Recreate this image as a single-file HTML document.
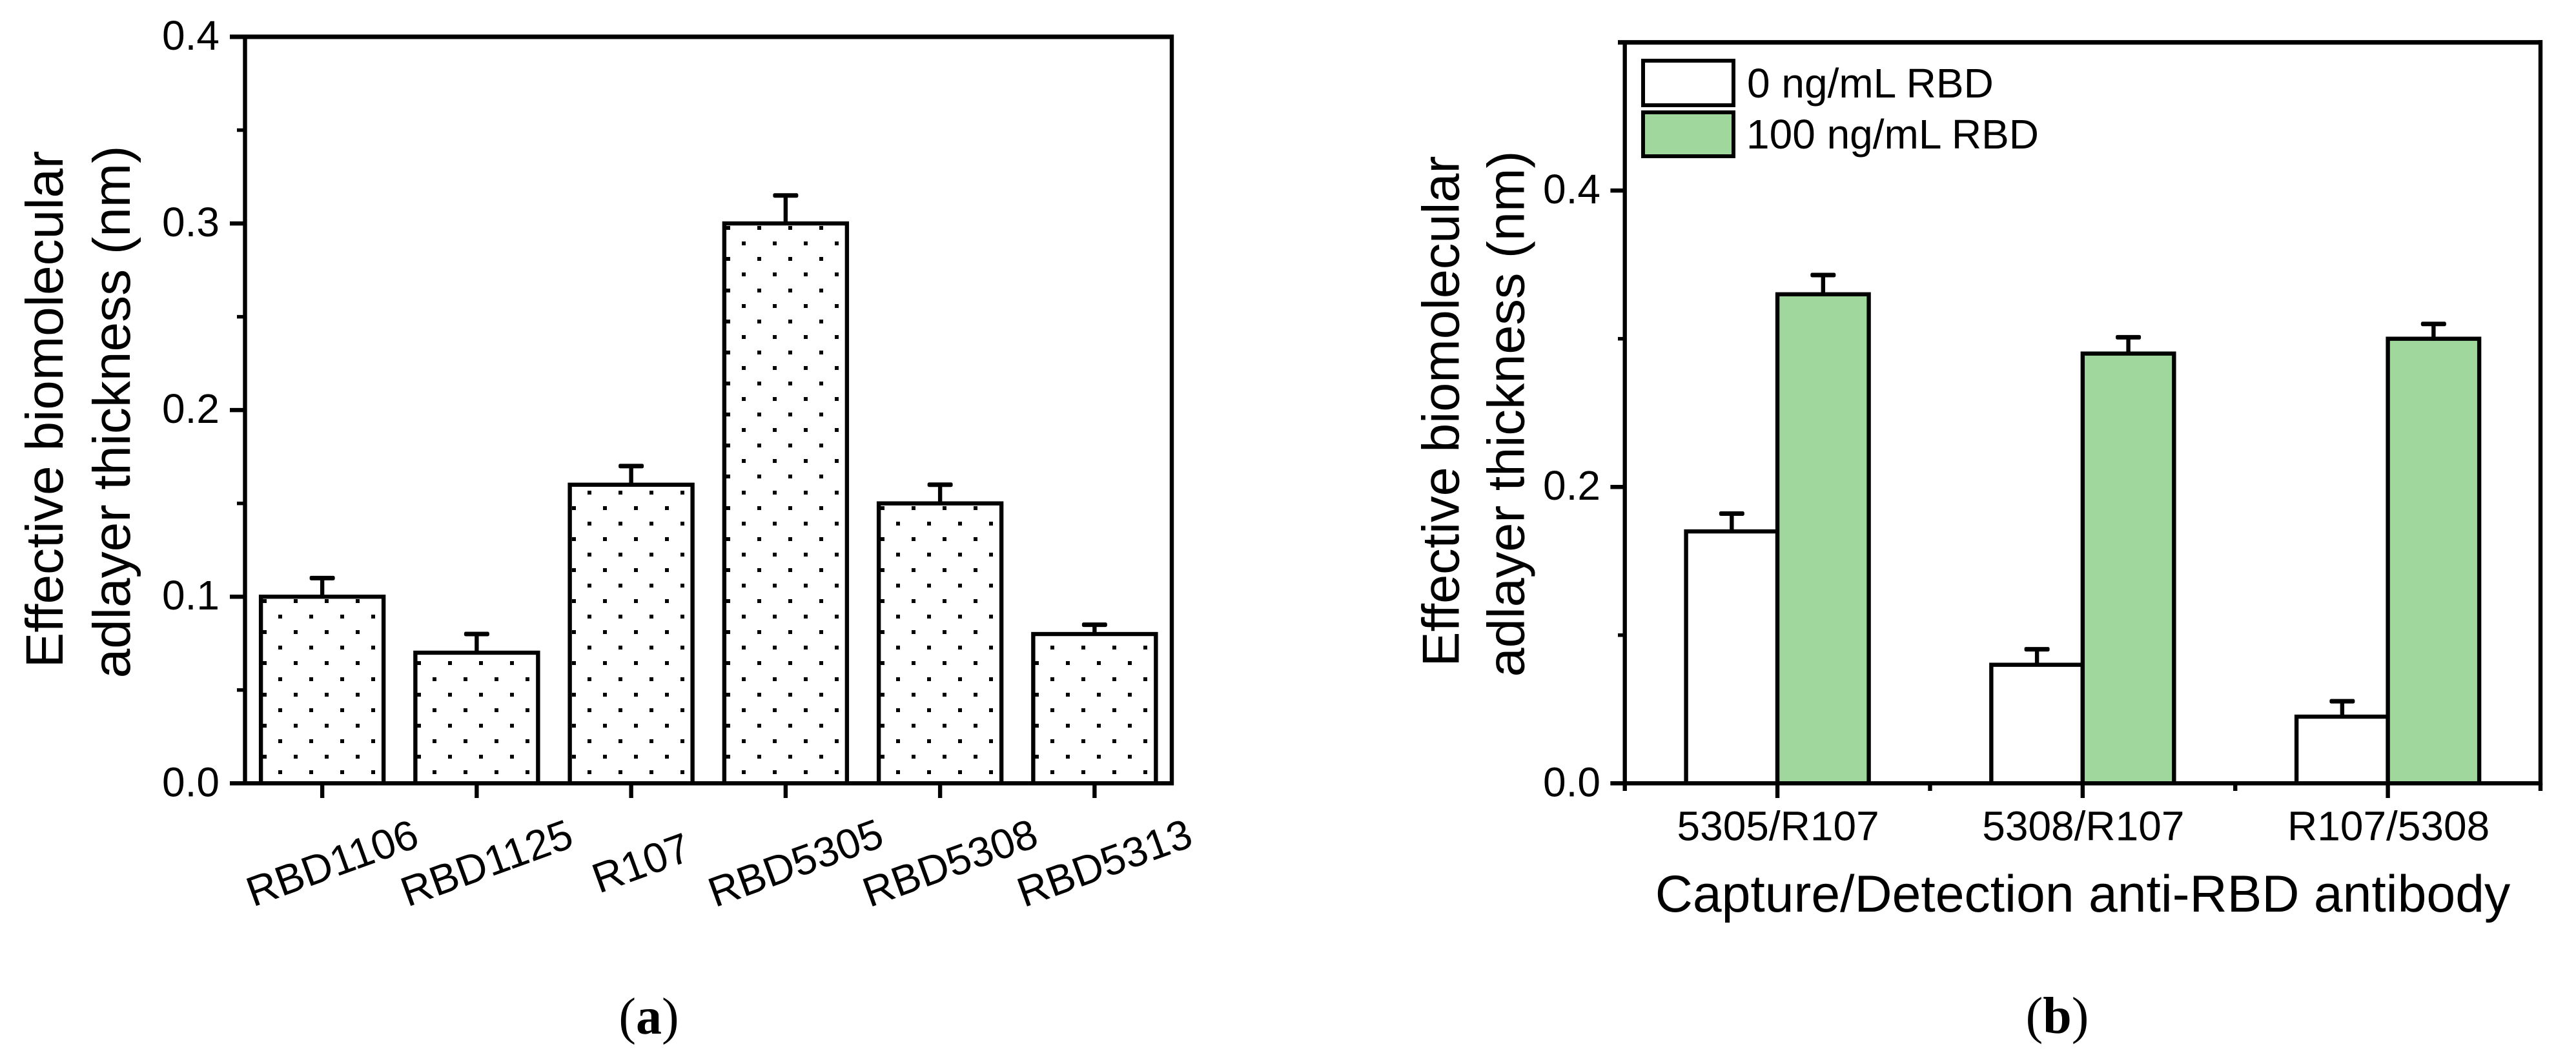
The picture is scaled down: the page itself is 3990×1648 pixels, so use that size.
<!DOCTYPE html>
<html lang="en">
<head>
<meta charset="utf-8">
<title>Effective biomolecular adlayer thickness charts</title>
<style>
html,body{margin:0;padding:0;background:#fff;width:3990px;height:1648px;overflow:hidden}
svg{display:block}
text{font-family:"Liberation Sans",Arial,sans-serif;fill:#000}
.cap{font-family:"Liberation Serif","Times New Roman",serif;font-size:80px}
</style>
</head>
<body>
<svg id="fig" xmlns="http://www.w3.org/2000/svg" width="3990" height="1648" viewBox="0 0 3990 1648">
  <rect x="0" y="0" width="3990" height="1648" fill="#fff"/>
  <g id="panelA"></g>
  <g id="panelB"></g>

  <text font-size="82" text-anchor="middle" transform="translate(97 634) rotate(-90)">Effective biomolecular</text>
  <text font-size="82" text-anchor="middle" transform="translate(201 638) rotate(-90)">adlayer thickness (nm)</text>
  <text font-size="81" text-anchor="middle" transform="translate(2259.7 637) rotate(-90)">Effective biomolecular</text>
  <text font-size="81" text-anchor="middle" transform="translate(2360.5 641) rotate(-90)">adlayer thickness (nm)</text>
  <text font-size="80.5" text-anchor="middle" x="3226" y="1412">Capture/Detection anti-RBD antibody</text>

  <g>
    <rect x="2545" y="94" width="140" height="69" fill="#fff" stroke="#000" stroke-width="6"/>
    <text x="2706" y="151" font-size="64">0 ng/mL RBD</text>
    <rect x="2545" y="174" width="140" height="68" fill="#9fd79d" stroke="#000" stroke-width="6"/>
    <text x="2705" y="230" font-size="64">100 ng/mL RBD</text>
  </g>

  <text class="cap" x="1005" y="1601" text-anchor="middle">(<tspan font-weight="bold">a</tspan>)</text>
  <text class="cap" x="3186.5" y="1600" text-anchor="middle">(<tspan font-weight="bold">b</tspan>)</text>
</svg>

<script>
// Panel (a) data
const aCategories = ["RBD1106", "RBD1125", "R107", "RBD5305", "RBD5308", "RBD5313"];
const aValues = [0.1, 0.07, 0.16, 0.3, 0.15, 0.08];
const aErrors = [0.01, 0.01, 0.01, 0.015, 0.01, 0.005];
const aMajorTicks = [0, 0.1, 0.2, 0.3, 0.4];
const aMajorLabels = ["0.0", "0.1", "0.2", "0.3", "0.4"];
const aMinorTicks = [0.05, 0.15, 0.25, 0.35];

// Panel (b) data
const bCategories = ["5305/R107", "5308/R107", "R107/5308"];
const bValues0 = [0.17, 0.08, 0.045];
const bErrors0 = [0.012, 0.0105, 0.0104];
const bValues100 = [0.33, 0.29, 0.3];
const bErrors100 = [0.013, 0.011, 0.01];
const bMajorTicks = [0, 0.2, 0.4];
const bMajorLabels = ["0.0", "0.2", "0.4"];
const bMinorTicks = [0.1, 0.3, 0.5];

const NS = "http://www.w3.org/2000/svg";
const panelA = document.getElementById("panelA");
const panelB = document.getElementById("panelB");

function make(parent, tag, attrs, text) {
  const el = document.createElementNS(NS, tag);
  for (const k in attrs) el.setAttribute(k, attrs[k]);
  if (text !== undefined) el.textContent = text;
  parent.appendChild(el);
  return el;
}

// Axis functions
const AX0 = 379.5, AX1 = 1815, AY0 = 1213.3, AY1 = 57;
const BX0 = 2516.7, BX1 = 3935, BY0 = 1213.3, BY1 = 65.6;
function xA(i) { return AX0 + (i + 0.5) * (AX1 - AX0) / aCategories.length; }
function yA(v) { return AY0 - (v / 0.4) * (AY0 - AY1); }
function xB(i) { return BX0 + (i + 0.5) * (BX1 - BX0) / bCategories.length; }
function yB(v) { return BY0 - (v / 0.5) * (BY0 - BY1); }

function line(parent, x1, y1, x2, y2, w, name) {
  const el = make(parent, "line", { x1: x1, y1: y1, x2: x2, y2: y2, stroke: "#000", "stroke-width": w });
  
  
  return el;
}

function errorBar(parent, cx, yTop, yCap, name) {
  line(parent, cx, yTop, cx, yCap, 6.4, name + '-error-stem');
  const cap = make(parent, "rect", { x: cx - 19.5, y: yCap - 3.5, width: 39, height: 7, rx: 2.5, fill: "#000" });
  
  
}

/* ---------- Panel (a) ---------- */
const ABAR_W = 190;
aCategories.forEach(function (cat, i) {
  const cx = xA(i), top = yA(aValues[i]), left = cx - ABAR_W / 2;
  const key = cat.toLowerCase();
  errorBar(panelA, cx, top, yA(aValues[i] + aErrors[i]), 'bar-' + key);
  const bar = make(panelA, "rect", { x: left, y: top, width: ABAR_W, height: AY0 - top, fill: "#fff", stroke: "#000", "stroke-width": 6.4 });
  
  
  let d = "";
  for (let k = 0; ; k++) {
    const cy = 1196 - 24.08 * k;
    if (cy - 3 <= top) break;
    const off = (k % 2 === 0) ? 30 : 6;
    for (let j = 0; j < 4; j++) {
      const px = Math.round(left + off + 48 * j - 3);
      const py = Math.round(cy - 3);
      d += "M" + px + " " + py + "h6v6h-6z";
    }
  }
  const dots = make(panelA, "path", { d: d, fill: "#000", "shape-rendering": "crispEdges" });
  
  
  line(panelA, cx, AY0, cx, 1236, 6.4, 'x-tick-' + key);
  const tick = make(panelA, "text", { "font-size": 65, "text-anchor": "middle", transform: "translate(" + (cx + 23) + " 1357.6) rotate(-20)" }, cat);
  
  
});

line(panelA, AX0, AY1, AX0, AY0, 6.4, 'panel-a-left-spine');
line(panelA, AX1, AY1 - 3.5, AX1, AY0 + 3, 6.4, 'panel-a-right-spine');
line(panelA, 356, AY1, AX1 + 3, AY1, 7, 'panel-a-top-spine');
line(panelA, 356, AY0, AX1 + 3, AY0, 6.5, 'panel-a-bottom-spine');

aMajorTicks.forEach(function (v, i) {
  line(panelA, 356, yA(v), AX0, yA(v), 6.5, 'y-major-tick-' + aMajorLabels[i]);
  const t = make(panelA, "text", { x: 340, y: yA(v) + 20, "font-size": 64, "text-anchor": "end" }, aMajorLabels[i]);
  
  
});
aMinorTicks.forEach(function (v) {
  line(panelA, 367, yA(v), AX0, yA(v), 5.5, 'y-minor-tick-' + v);
});

/* ---------- Panel (b) ---------- */
const BBAR_W = 141.5;
bCategories.forEach(function (cat, i) {
  const cx = xB(i);
  const key = cat.toLowerCase().replace("/", "-");
  const t0 = yB(bValues0[i]), t1 = yB(bValues100[i]);
  errorBar(panelB, cx - BBAR_W / 2, t0, yB(bValues0[i] + bErrors0[i]), 'bar-0-ng-' + key);
  errorBar(panelB, cx + BBAR_W / 2, t1, yB(bValues100[i] + bErrors100[i]), 'bar-100-ng-' + key);
  const r0 = make(panelB, "rect", { x: cx - BBAR_W, y: t0, width: BBAR_W, height: BY0 - t0, fill: "#fff", stroke: "#000", "stroke-width": 6.4 });
  
  
  const r1 = make(panelB, "rect", { x: cx, y: t1, width: BBAR_W, height: BY0 - t1, fill: "#9fd79d", stroke: "#000", "stroke-width": 6.4 });
  
  
  line(panelB, cx, BY0, cx, 1236, 6.4, 'x-major-tick-' + key);
  const t = make(panelB, "text", { x: cx + 1, y: 1301.6, "font-size": 64, "text-anchor": "middle" }, cat);
  
  
});
for (let i = 0; i <= bCategories.length; i++) {
  const mx = BX0 + i * (BX1 - BX0) / bCategories.length;
  line(panelB, mx, BY0, mx, 1225, 6.4, 'x-minor-tick-' + i);
}

line(panelB, BX0, BY1, BX0, BY0, 6.4, 'panel-b-left-spine');
line(panelB, BX1, BY1 - 3.5, BX1, BY0 + 3, 6.4, 'panel-b-right-spine');
line(panelB, 2506, BY1, BX1 + 3, BY1, 7, 'panel-b-top-spine');
line(panelB, 2494.4, BY0, BX1 + 3, BY0, 6.5, 'panel-b-bottom-spine');

bMajorTicks.forEach(function (v, i) {
  line(panelB, 2494.4, yB(v), BX0, yB(v), 6.5, 'y-major-tick-b-' + bMajorLabels[i]);
  const t = make(panelB, "text", { x: 2479, y: yB(v) + 20, "font-size": 64, "text-anchor": "end" }, bMajorLabels[i]);
  
  
});
bMinorTicks.forEach(function (v) {
  line(panelB, 2506, yB(v), BX0, yB(v), 5.5, 'y-minor-tick-b-' + v);
});
</script>
</body>
</html>
